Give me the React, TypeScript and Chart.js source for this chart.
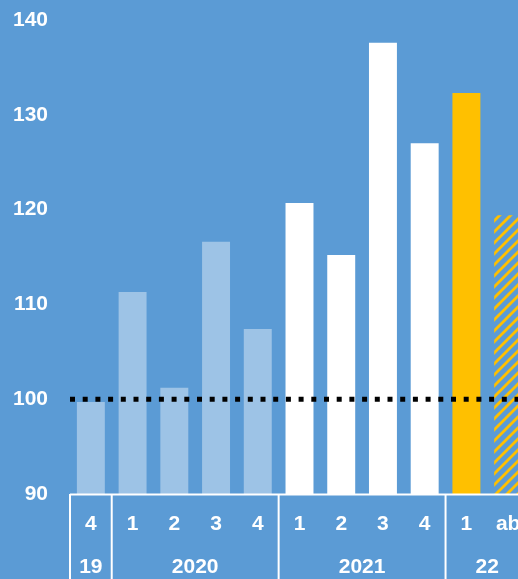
import React, { useEffect, useRef } from "react";
import { Chart, registerables } from "chart.js";

Chart.register(...registerables);

const quarterLabels = ["4", "1", "2", "3", "4", "1", "2", "3", "4", "1", "ab"];
const yearLabels = ["19", "2020", "2021", "22"];
const yearSpans = [1, 4, 4, 2];
const values = [99.7, 111.3, 101.2, 116.6, 107.4, 120.7, 115.2, 137.6, 127.0, 132.3, 119.4];
const barKinds = ["light", "light", "light", "light", "light", "white", "white", "white", "white", "yellow", "hatch"];
const baselineValue = 100;
const yMin = 90;
const yMax = 140;
const yStep = 10;

const BG = "#5B9BD5";
const LIGHT = "#9DC3E6";
const WHITE = "#FFFFFF";
const YELLOW = "#FFC000";
const FONT = "'Liberation Sans', Arial, sans-serif";

function makeHatch(): CanvasPattern | string {
  const n = 11;
  const c = document.createElement("canvas");
  c.width = n;
  c.height = n;
  const g = c.getContext("2d");
  if (!g) return YELLOW;
  g.strokeStyle = YELLOW;
  g.lineWidth = 2.8;
  g.beginPath();
  for (let k = -1; k <= 1; k++) {
    g.moveTo(-2 + k * n, n + 2);
    g.lineTo(n + 2 + k * n, -2);
  }
  g.stroke();
  const p = g.createPattern(c, "repeat");
  return p || YELLOW;
}

export default function App() {
  const ref = useRef<HTMLCanvasElement | null>(null);

  useEffect(() => {
    document.body.style.margin = "0";
    document.body.style.background = BG;
    const canvas = ref.current;
    if (!canvas) return;
    const hatch = makeHatch();
    const colors = barKinds.map((k) =>
      k === "light" ? LIGHT : k === "white" ? WHITE : k === "yellow" ? YELLOW : hatch
    );

    const overlay = {
      id: "overlay",
      afterDatasetsDraw(chart: any) {
        const { ctx, chartArea } = chart;
        const y = chart.scales.y;
        const yy = y.getPixelForValue(baselineValue);
        ctx.save();
        ctx.strokeStyle = "#000000";
        ctx.lineWidth = 5;
        ctx.setLineDash([5, 7.7]);
        ctx.beginPath();
        ctx.moveTo(chartArea.left, yy);
        ctx.lineTo(chartArea.right, yy);
        ctx.stroke();
        ctx.restore();
      },
      afterDraw(chart: any) {
        const { ctx, chartArea, height } = chart;
        const x = chart.scales.x;
        const half = (x.getPixelForValue(1) - x.getPixelForValue(0)) / 2;
        const bottom = chartArea.bottom;
        ctx.save();
        ctx.strokeStyle = WHITE;
        ctx.lineWidth = 2;
        ctx.beginPath();
        ctx.moveTo(chartArea.left, bottom + 0.5);
        ctx.lineTo(chartArea.right, bottom + 0.5);
        ctx.stroke();
        let idx = 0;
        const bounds: number[] = [0];
        yearSpans.forEach((s) => {
          idx += s;
          bounds.push(idx);
        });
        bounds.forEach((b) => {
          const px = x.getPixelForValue(b) - half;
          ctx.beginPath();
          ctx.moveTo(px, bottom);
          ctx.lineTo(px, height);
          ctx.stroke();
        });
        ctx.fillStyle = WHITE;
        ctx.textAlign = "center";
        ctx.textBaseline = "middle";
        ctx.font = `bold 21px ${FONT}`;
        quarterLabels.forEach((q, i) => {
          ctx.fillText(q, x.getPixelForValue(i), bottom + 30);
        });
        yearLabels.forEach((lab, i) => {
          const a = x.getPixelForValue(bounds[i]) - half;
          const b = x.getPixelForValue(bounds[i + 1]) - half;
          ctx.fillText(lab, (a + b) / 2, bottom + 73);
        });
        ctx.restore();
      },
    };

    const chart = new Chart(canvas, {
      type: "bar",
      data: {
        labels: quarterLabels,
        datasets: [
          {
            data: values,
            backgroundColor: colors as any,
            borderWidth: 0,
            barPercentage: 0.67,
            categoryPercentage: 1,
          },
        ],
      },
      options: {
        responsive: false,
        animation: false,
        layout: { padding: { top: 20, left: 0, right: 0, bottom: 0 } },
        plugins: {
          legend: { display: false },
          tooltip: { enabled: false },
        },
        scales: {
          x: {
            grid: { display: false, drawTicks: false },
            border: { display: false },
            ticks: { display: false },
            afterFit(scale: any) {
              scale.height = 85;
              scale.paddingLeft = 0;
              scale.paddingRight = 0;
            },
          },
          y: {
            min: yMin,
            max: yMax,
            grid: { display: false, drawTicks: false },
            border: { display: false },
            ticks: {
              stepSize: yStep,
              color: WHITE,
              padding: 22,
              font: { family: FONT, size: 21, weight: "bold" },
            },
            afterFit(scale: any) {
              scale.width = 70;
              scale.paddingTop = 0;
              scale.paddingBottom = 0;
            },
          },
        },
      },
      plugins: [overlay],
    });
    return () => chart.destroy();
  }, []);

  return (
    <div style={{ width: 518, height: 579, overflow: "hidden", background: BG }}>
      <canvas ref={ref} width={529} height={579} style={{ display: "block" }} />
    </div>
  );
}
